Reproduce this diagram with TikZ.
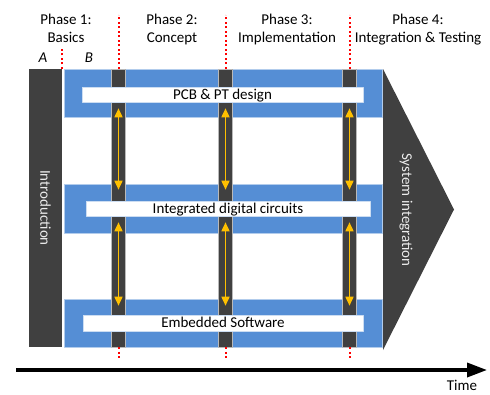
\documentclass[tikz,border=0pt]{standalone}
\usepackage{fontspec}
\setmainfont{Carlito}
\usetikzlibrary{arrows.meta}
\definecolor{bandblue}{HTML}{558ED5}
\definecolor{darkbar}{HTML}{404040}
\definecolor{linkyellow}{HTML}{FFC000}
\tikzset{
	band/.style={fill=bandblue, draw=bandblue!45, line width=0.6pt},
	column/.style={fill=darkbar, draw=gray!55, line width=0.8pt, inner sep=0pt, minimum width=14pt, minimum height=278pt},
	taskbox/.style={fill=white, draw=bandblue!30, line width=0.6pt, inner sep=0pt, text height=9.6pt, text depth=0pt},
	phaseline/.style={red, line width=2pt, dash pattern=on 2pt off 2.5pt},
	link/.style={linkyellow, line width=1.6pt, {Triangle[length=9pt,width=8pt]}-{Triangle[length=9pt,width=8pt]}},
	vlabel/.style={rotate=-90, text=gray!15},
	phase/.style={align=center, anchor=base},
}
\begin{document}
\begin{tikzpicture}[x=1pt, y=-1pt, font=\fontsize{15}{18}\selectfont, line join=round]
	\useasboundingbox (0,0) rectangle (490,394);
	\def\bl{64} \def\br{382}
	% blue bands
	\foreach \t/\b in {69/117, 184/233, 299/347}
		\draw[band] (\bl,\t) rectangle (\br,\b);
	% vertical columns
	\foreach \n/\x in {col1/118.5, col2/225.5, col3/349.5}
		\node[column] (\n) at (\x,208) {};
	% task boxes
	\node[taskbox, minimum width=281pt, minimum height=15pt] (pcb) at (222.5,94.5) {PCB \& PT design};
	\node[taskbox, minimum width=284pt, minimum height=15pt] (idc) at (228,208.5) {Integrated digital circuits};
	\node[taskbox, minimum width=280pt, minimum height=16pt] (emb) at (223,323) {Embedded Software};
	% links between the bands
	\foreach \n in {col1, col2, col3} {
		\draw[link] ([yshift=-6pt]\n |- pcb.south) -- ([yshift=11pt]\n |- idc.north);
		\draw[link] ([yshift=-6pt]\n |- idc.south) -- ([yshift=9pt]\n |- emb.north);
	}
	% introduction and integration
	\node[fill=darkbar, rotate=-90, minimum width=278pt, minimum height=33pt, inner sep=0pt, text=gray!15] (intro) at (45.5,208) {Introduction};
	\fill[darkbar] (383,69) -- (454,209.5) -- (383,350) -- cycle;
	\node[vlabel] (sysint) at (406,210) {System integration};
	% phase borders
	\foreach \n in {col1, col2, col3} {
		\draw[phaseline] (\n.north) -- ++(0,-54);
		\draw[phaseline] (\n.south) -- ++(0,13);
	}
	\draw[phaseline] (intro.north west) -- ++(0,-22);
	% phase titles
	\node[phase] (ph1) at (66,42) {Phase 1:\\Basics};
	\node[phase] (ph2) at (172,42) {Phase 2:\\Concept};
	\node[phase] (ph3) at (287,42) {Phase 3:\\Implementation};
	\node[phase] (ph4) at (418,42) {Phase 4:\\Integration \& Testing};
	\node[anchor=base, font=\fontsize{15}{18}\selectfont\itshape] (pa) at (43,62) {A};
	\node[anchor=base, font=\fontsize{15}{18}\selectfont\itshape] (pb) at (89,62) {B};
	% time axis
	\coordinate (t0) at (16,370);
	\coordinate (t1) at (487,370);
	\draw[line width=3.5pt, -{Triangle[length=20pt,width=14pt]}] (t0) -- (t1);
	\node[anchor=base] (time) at (462,390) {Time};
\end{tikzpicture}
\end{document}
